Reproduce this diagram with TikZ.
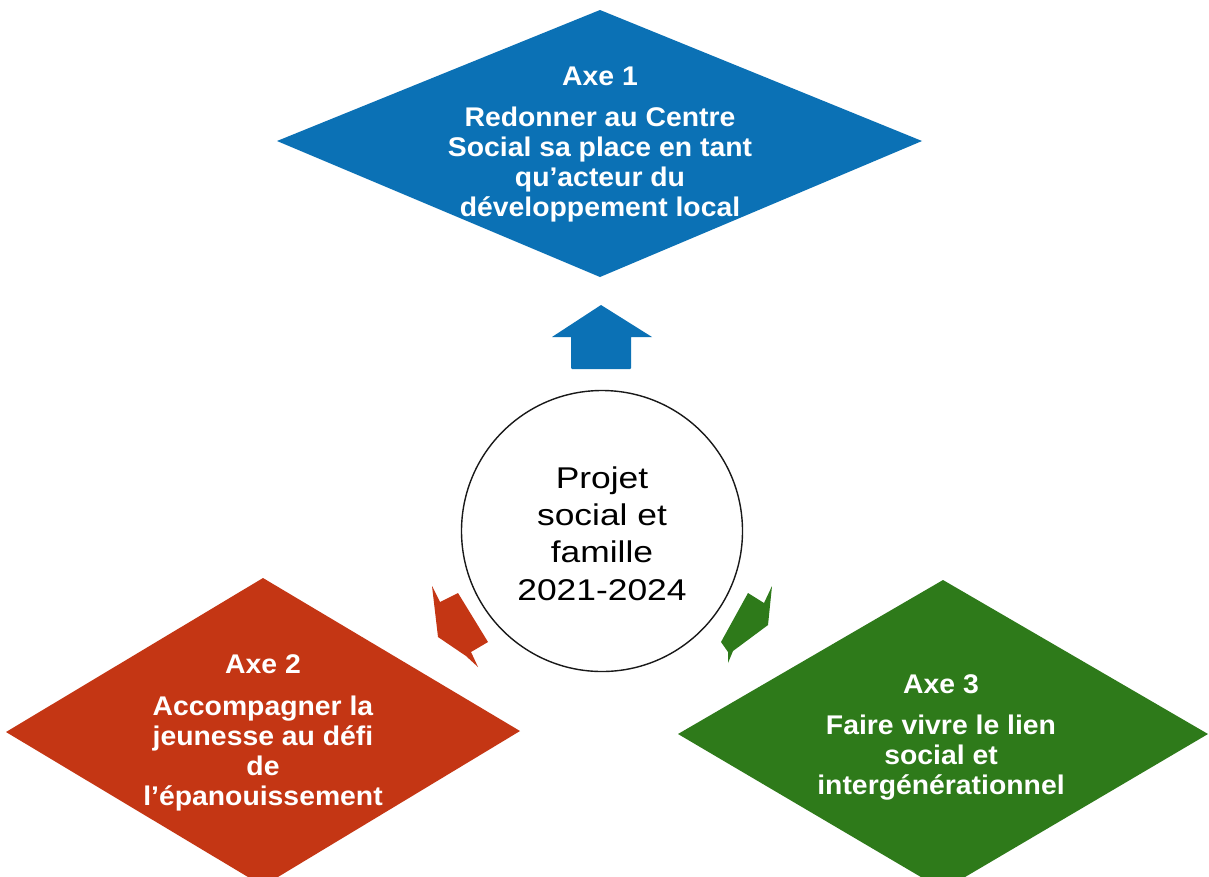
\documentclass[tikz,border=0pt]{standalone}
\usepackage{fontspec}
\setmainfont{Liberation Sans}
\newfontfamily\axefont[FakeStretch=1.05]{Liberation Sans}
\newfontfamily\centrefont[FakeStretch=1.18]{Liberation Sans}
\definecolor{axeblue}{RGB}{11,113,181}
\definecolor{axered}{RGB}{196,54,20}
\definecolor{axegreen}{RGB}{46,122,26}
\tikzset{
  axetext/.style={text=white, align=center, inner sep=0pt, anchor=base,
    font=\axefont\bfseries\fontsize{27}{29.7}\selectfont},
  centretext/.style={text=black, align=center, inner sep=0pt, anchor=base,
    font=\centrefont\fontsize{30}{37.3}\selectfont},
}
\begin{document}
\begin{tikzpicture}[x=1pt,y=-1pt]
\useasboundingbox (0,0) rectangle (1209,876);
\fill[white] (0,0) rectangle (1209,876);

% diamonds
\fill[axeblue] (277,141) -- (600,10) -- (922,141) -- (600,277) -- cycle;
\fill[axered] (6,732) -- (263,578) -- (520,731) -- (263,886) -- cycle;
\fill[axegreen] (678,734) -- (943,580) -- (1208,734) -- (943,890) -- cycle;

% block arrows
\fill[axeblue] (601,305) -- (652,337) -- (631,337) -- (631,366) [rounded corners=1pt] -- (631,369) -- (571,369) [sharp corners] -- (571,337) -- (552,337) -- cycle;
\fill[axered] (432,586) -- (440,602) -- (458,593) -- (488,642) -- (471,652) -- (478,667) -- (466,656) -- (438,637) -- cycle;
\fill[axegreen] (772,586) -- (768,625) -- (733,651) -- (728,663) -- (728,652) -- (721,642) -- (748,593) -- (764,603) -- cycle;

% centre circle
\node[circle, draw=black!90, line width=1.4pt, fill=white, minimum size=281pt, inner sep=0pt] (centre) at (602,531) {};
\node[centretext] (centretxt) at (602,600) {Projet\\social et\\famille\\2021-2024};

% texts
\node[axetext] (axe1) at (600,216) {Axe 1\\[11.3pt]Redonner au Centre\\Social sa place en tant\\qu’acteur du\\développement local};
\node[axetext] (axe2) at (263,805) {Axe 2\\[12.5pt]Accompagner la\\jeunesse au défi\\de\\l’épanouissement};
\node[axetext] (axe3) at (941,794) {Axe 3\\[11.3pt]Faire vivre le lien\\social et\\intergénérationnel};
\end{tikzpicture}
\end{document}
